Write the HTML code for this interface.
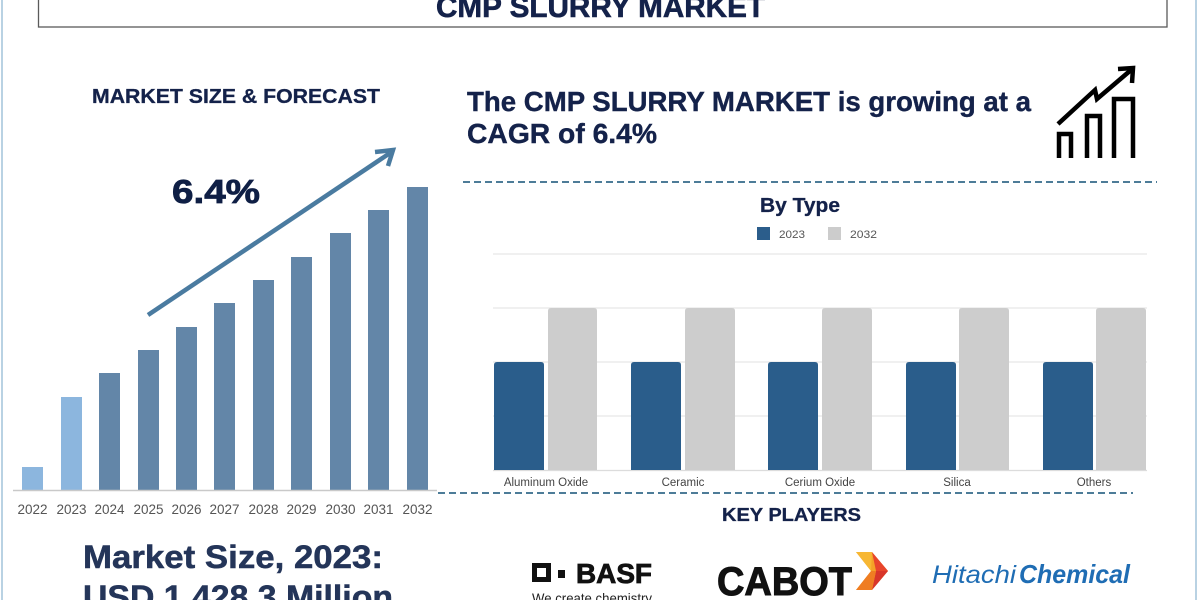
<!DOCTYPE html>
<html>
<head>
<meta charset="utf-8">
<style>
html,body{margin:0;padding:0;background:#fff;}
body{width:1200px;height:600px;overflow:hidden;}
svg{display:block;}
text{font-family:"Liberation Sans",Arial,sans-serif;}
</style>
</head>
<body>
<svg width="1200" height="600" viewBox="0 0 1200 600" xmlns="http://www.w3.org/2000/svg">
  <rect x="0" y="0" width="1200" height="600" fill="#ffffff"/>
  <!-- side borders -->
  <rect x="1" y="0" width="2" height="600" fill="#b9d2e3"/>
  <rect x="1195" y="0" width="2" height="600" fill="#b9d2e3"/>

  <!-- title box -->
  <rect x="38.5" y="-10" width="1128.5" height="37" fill="#fff" stroke="#5a5a5a" stroke-width="1.3"/>
  <text x="436" y="17" font-size="30" font-weight="bold" fill="#14224a" stroke="#14224a" stroke-width="0.6" textLength="329" lengthAdjust="spacingAndGlyphs">CMP SLURRY MARKET</text>

  <!-- left section -->
  <text x="92" y="103" font-size="20" font-weight="bold" fill="#14224a" stroke="#14224a" stroke-width="0.3" textLength="288" lengthAdjust="spacingAndGlyphs">MARKET SIZE &amp; FORECAST</text>
  <text x="172" y="203" font-size="33" font-weight="bold" fill="#0f1f45" stroke="#0f1f45" stroke-width="0.8" textLength="88" lengthAdjust="spacingAndGlyphs">6.4%</text>

  <!-- bars -->
  <g>
    <rect x="22" y="467" width="21" height="23" fill="#8cb6de"/>
    <rect x="61" y="397" width="21" height="93" fill="#8cb6de"/>
    <rect x="99" y="373" width="21" height="117" fill="#6386a8"/>
    <rect x="138" y="350" width="21" height="140" fill="#6386a8"/>
    <rect x="176" y="327" width="21" height="163" fill="#6386a8"/>
    <rect x="214" y="303" width="21" height="187" fill="#6386a8"/>
    <rect x="253" y="280" width="21" height="210" fill="#6386a8"/>
    <rect x="291" y="257" width="21" height="233" fill="#6386a8"/>
    <rect x="330" y="233" width="21" height="257" fill="#6386a8"/>
    <rect x="368" y="210" width="21" height="280" fill="#6386a8"/>
    <rect x="407" y="187" width="21" height="303" fill="#6386a8"/>
  </g>
  <line x1="13" y1="490.5" x2="437" y2="490.5" stroke="#c9c9c9" stroke-width="1.5"/>

  <!-- arrow -->
  <line x1="148" y1="315" x2="390" y2="153" stroke="#4a7ba0" stroke-width="4.5"/>
  <polyline points="375,152 393,150 388,166" fill="none" stroke="#4a7ba0" stroke-width="4.5" stroke-linejoin="miter"/>

  <!-- year labels -->
  <g font-size="13.5" fill="#555" text-anchor="middle">
    <text x="32.5" y="514">2022</text>
    <text x="71.5" y="514">2023</text>
    <text x="109.5" y="514">2024</text>
    <text x="148.5" y="514">2025</text>
    <text x="186.5" y="514">2026</text>
    <text x="224.5" y="514">2027</text>
    <text x="263.5" y="514">2028</text>
    <text x="301.5" y="514">2029</text>
    <text x="340.5" y="514">2030</text>
    <text x="378.5" y="514">2031</text>
    <text x="417.5" y="514">2032</text>
  </g>

  <text x="83" y="568" font-size="32" font-weight="bold" fill="#243559" stroke="#243559" stroke-width="0.5" textLength="300" lengthAdjust="spacingAndGlyphs">Market Size, 2023:</text>
  <text x="83" y="608" font-size="32" font-weight="bold" fill="#243559" stroke="#243559" stroke-width="0.5" textLength="310" lengthAdjust="spacingAndGlyphs">USD 1,428.3 Million</text>

  <!-- right header -->
  <text x="467" y="111" font-size="28" font-weight="bold" fill="#14224a" stroke="#14224a" stroke-width="0.4" textLength="564" lengthAdjust="spacingAndGlyphs">The CMP SLURRY MARKET is growing at a</text>
  <text x="467" y="143" font-size="28" font-weight="bold" fill="#14224a" stroke="#14224a" stroke-width="0.4" textLength="190" lengthAdjust="spacingAndGlyphs">CAGR of 6.4%</text>

  <!-- icon -->
  <g fill="none" stroke="#000" stroke-width="4.5" stroke-linejoin="miter">
    <polyline points="1059,158 1059,134 1071,134 1071,158"/>
    <polyline points="1087,158 1087,116 1100,116 1100,158"/>
    <polyline points="1114,158 1114,99 1133,99 1133,158"/>
    <polyline points="1058,124 1095,90 1097,99 1131,70"/>
    <polyline points="1118,69 1133,68 1132,83"/>
  </g>

  <!-- dashed lines -->
  <line x1="463" y1="182" x2="1157" y2="182" stroke="#4d7c98" stroke-width="2" stroke-dasharray="7,4"/>
  <line x1="438" y1="493" x2="1133" y2="493" stroke="#4d7c98" stroke-width="2" stroke-dasharray="7,4"/>

  <!-- By Type chart -->
  <text x="800" y="212" font-size="20" font-weight="bold" fill="#14224a" stroke="#14224a" stroke-width="0.3" text-anchor="middle" textLength="80" lengthAdjust="spacingAndGlyphs">By Type</text>
  <rect x="757" y="227" width="13" height="13" fill="#2b5d8b"/>
  <text x="779" y="238" font-family="'DejaVu Sans Mono','Liberation Mono',monospace" font-size="11" fill="#555" textLength="26" lengthAdjust="spacingAndGlyphs">2023</text>
  <rect x="828" y="227" width="13" height="13" fill="#cccccc"/>
  <text x="850" y="238" font-family="'DejaVu Sans Mono','Liberation Mono',monospace" font-size="11" fill="#555" textLength="27" lengthAdjust="spacingAndGlyphs">2032</text>

  <g stroke="#e8e8e8" stroke-width="1.2">
    <line x1="493" y1="254" x2="1147" y2="254"/>
    <line x1="493" y1="308" x2="1147" y2="308"/>
    <line x1="493" y1="362" x2="1147" y2="362"/>
    <line x1="493" y1="416" x2="1147" y2="416"/>
  </g>
  <line x1="493" y1="470.5" x2="1147" y2="470.5" stroke="#dcdcdc" stroke-width="1.2"/>

  <g>
    <path d="M494,470 V365 Q494,362 497,362 H541 Q544,362 544,365 V470 Z" fill="#2a5d8b"/>
    <path d="M548,470 V311 Q548,308 551,308 H594 Q597,308 597,311 V470 Z" fill="#cdcdcd"/>
    <path d="M631,470 V365 Q631,362 634,362 H678 Q681,362 681,365 V470 Z" fill="#2a5d8b"/>
    <path d="M685,470 V311 Q685,308 688,308 H732 Q735,308 735,311 V470 Z" fill="#cdcdcd"/>
    <path d="M768,470 V365 Q768,362 771,362 H815 Q818,362 818,365 V470 Z" fill="#2a5d8b"/>
    <path d="M822,470 V311 Q822,308 825,308 H869 Q872,308 872,311 V470 Z" fill="#cdcdcd"/>
    <path d="M906,470 V365 Q906,362 909,362 H953 Q956,362 956,365 V470 Z" fill="#2a5d8b"/>
    <path d="M959,470 V311 Q959,308 962,308 H1006 Q1009,308 1009,311 V470 Z" fill="#cdcdcd"/>
    <path d="M1043,470 V365 Q1043,362 1046,362 H1090 Q1093,362 1093,365 V470 Z" fill="#2a5d8b"/>
    <path d="M1096,470 V311 Q1096,308 1099,308 H1143 Q1146,308 1146,311 V470 Z" fill="#cdcdcd"/>
  </g>
  <g font-size="11.5" fill="#444" text-anchor="middle">
    <text x="546" y="486">Aluminum Oxide</text>
    <text x="683" y="486">Ceramic</text>
    <text x="820" y="486">Cerium Oxide</text>
    <text x="957" y="486">Silica</text>
    <text x="1094" y="486">Others</text>
  </g>

  <!-- Key players -->
  <text x="722" y="521" font-size="18" font-weight="bold" fill="#14224a" stroke="#14224a" stroke-width="0.3" textLength="139" lengthAdjust="spacingAndGlyphs">KEY PLAYERS</text>

  <!-- BASF -->
  <rect x="532" y="563" width="19" height="19" fill="#111"/>
  <rect x="537" y="568" width="9" height="9" fill="#fff"/>
  <rect x="558" y="570" width="7" height="8" fill="#111"/>
  <text x="576" y="583" font-size="28" font-weight="bold" fill="#111" stroke="#111" stroke-width="0.8" textLength="76" lengthAdjust="spacingAndGlyphs">BASF</text>
  <text x="532" y="603" font-size="14" fill="#222" textLength="120" lengthAdjust="spacingAndGlyphs">We create chemistry</text>

  <!-- CABOT -->
  <text x="717" y="595" font-size="40" font-weight="bold" fill="#111" stroke="#111" stroke-width="1" textLength="135" lengthAdjust="spacingAndGlyphs">CABOT</text>
  <g>
    <polygon points="856,552 872,552 888,571 872,590 856,590 871,571" fill="#f4a227"/>
    <polygon points="872,552 888,571 876,571" fill="#e8452c"/>
    <polygon points="876,571 888,571 872,590" fill="#d8362a"/>
    <polygon points="856,552 872,552 871,571" fill="#f7b733"/>
    <polygon points="871,571 876,571 872,590 856,590" fill="#ef7d22"/>
  </g>

  <!-- Hitachi Chemical -->
  <text x="932" y="583" font-size="25" font-style="italic" fill="#1f6db4" textLength="84" lengthAdjust="spacingAndGlyphs">Hitachi</text>
  <text x="1019" y="583" font-size="26" font-style="italic" font-weight="bold" fill="#1f6db4" textLength="111" lengthAdjust="spacingAndGlyphs">Chemical</text>
</svg>
</body>
</html>
